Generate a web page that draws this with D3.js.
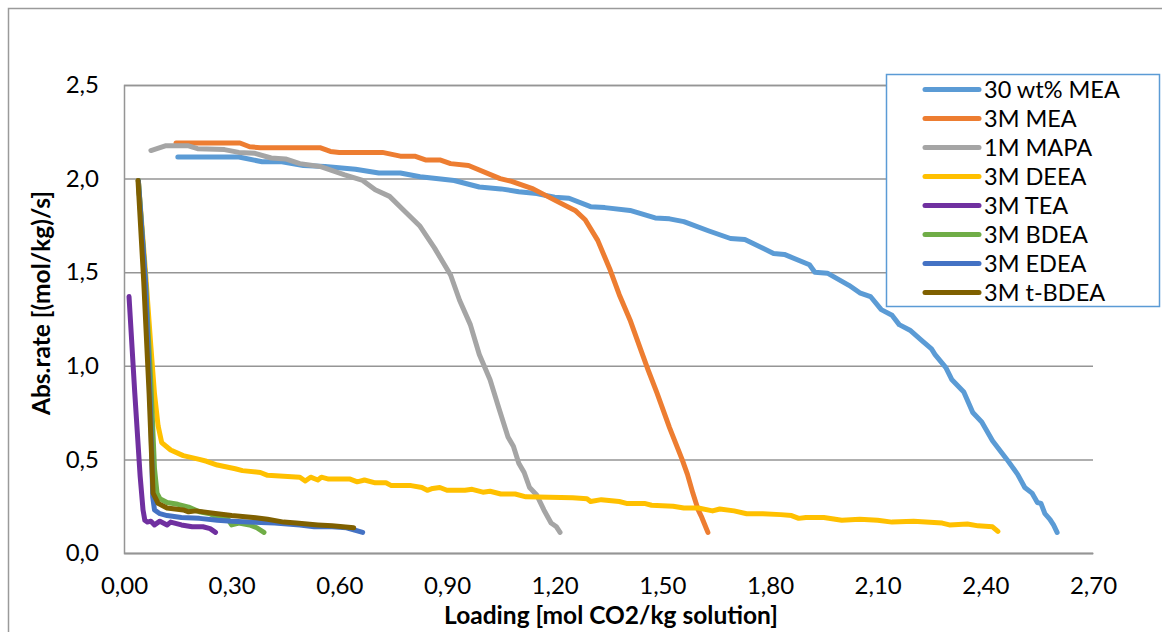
<!DOCTYPE html>
<html>
<head>
<meta charset="utf-8">
<script src="https://cdn.jsdelivr.net/npm/d3@7"></script>
<style>
  html, body { margin: 0; padding: 0; background: #fff; }
  svg { display: block; font-family: Lato, "Noto Sans", sans-serif; }
</style>
</head>
<body>
<svg id="chart" width="1162" height="632"></svg>
<script>
// Absorption rate versus CO2 loading for several amine solutions
const seriesNames = ["30 wt% MEA", "3M MEA", "1M MAPA", "3M DEEA", "3M TEA", "3M BDEA", "3M EDEA", "3M t-BDEA"];
const seriesColors = ["#5b9bd5", "#ed7d31", "#a5a5a5", "#ffc000", "#7030a0", "#70ad47", "#4472c4", "#7f6000"];

const xTickValues = [0, 0.3, 0.6, 0.9, 1.2, 1.5, 1.8, 2.1, 2.4, 2.7];
const xTickLabels = ["0,00", "0,30", "0,60", "0,90", "1,20", "1,50", "1,80", "2,10", "2,40", "2,70"];
const yTickValues = [0, 0.5, 1.0, 1.5, 2.0, 2.5];
const yTickLabels = ["0,0", "0,5", "1,0", "1,5", "2,0", "2,5"];

// [loading, rate] pairs per solvent
const mea30 = [[0.15,2.115],[0.32,2.115],[0.385,2.09],[0.44,2.09],[0.50,2.07],[0.56,2.065],[0.645,2.05],[0.71,2.03],[0.77,2.03],[0.825,2.01],[0.87,2.0],[0.92,1.99],[0.99,1.955],[1.05,1.945],[1.10,1.93],[1.15,1.92],[1.20,1.90],[1.24,1.895],[1.30,1.85],[1.34,1.845],[1.41,1.83],[1.48,1.79],[1.52,1.785],[1.56,1.77],[1.63,1.72],[1.69,1.68],[1.73,1.675],[1.81,1.60],[1.84,1.595],[1.91,1.54],[1.925,1.50],[1.96,1.495],[2.02,1.43],[2.05,1.39],[2.08,1.37],[2.11,1.30],[2.14,1.27],[2.16,1.22],[2.19,1.19],[2.22,1.14],[2.25,1.09],[2.26,1.06],[2.29,0.99],[2.307,0.925],[2.34,0.86],[2.365,0.75],[2.39,0.70],[2.42,0.60],[2.46,0.50],[2.49,0.42],[2.51,0.35],[2.53,0.32],[2.545,0.27],[2.555,0.265],[2.566,0.21],[2.58,0.18],[2.59,0.15],[2.60,0.11]];
const mea3 = [[0.145,2.19],[0.323,2.19],[0.35,2.17],[0.38,2.165],[0.546,2.165],[0.575,2.145],[0.60,2.14],[0.72,2.14],[0.77,2.12],[0.81,2.12],[0.84,2.10],[0.88,2.10],[0.91,2.08],[0.96,2.07],[1.048,2.0],[1.08,1.985],[1.14,1.945],[1.20,1.885],[1.257,1.83],[1.285,1.78],[1.32,1.67],[1.355,1.51],[1.38,1.38],[1.41,1.245],[1.44,1.085],[1.46,0.98],[1.485,0.855],[1.52,0.67],[1.555,0.50],[1.57,0.42],[1.585,0.32],[1.60,0.23],[1.61,0.19],[1.627,0.11]];
const mapa1 = [[0.075,2.15],[0.115,2.175],[0.18,2.175],[0.205,2.16],[0.28,2.155],[0.32,2.14],[0.365,2.135],[0.41,2.11],[0.45,2.105],[0.49,2.08],[0.546,2.065],[0.615,2.02],[0.665,1.99],[0.70,1.94],[0.74,1.905],[0.78,1.83],[0.825,1.745],[0.865,1.63],[0.91,1.485],[0.935,1.35],[0.965,1.22],[0.99,1.06],[1.02,0.925],[1.045,0.77],[1.07,0.62],[1.085,0.57],[1.10,0.48],[1.115,0.43],[1.13,0.35],[1.15,0.31],[1.17,0.23],[1.19,0.16],[1.205,0.14],[1.215,0.11]];
const deea3 = [[0.04,1.99],[0.06,1.50],[0.075,1.10],[0.085,0.85],[0.095,0.68],[0.105,0.59],[0.13,0.55],[0.165,0.52],[0.21,0.50],[0.23,0.49],[0.26,0.47],[0.31,0.45],[0.33,0.44],[0.38,0.43],[0.40,0.415],[0.49,0.405],[0.505,0.385],[0.52,0.405],[0.54,0.39],[0.55,0.405],[0.57,0.395],[0.63,0.395],[0.65,0.38],[0.67,0.39],[0.70,0.375],[0.73,0.375],[0.745,0.36],[0.80,0.36],[0.83,0.35],[0.845,0.335],[0.86,0.345],[0.88,0.35],[0.90,0.335],[0.95,0.335],[0.97,0.34],[1.00,0.325],[1.02,0.33],[1.05,0.315],[1.09,0.315],[1.12,0.30],[1.25,0.295],[1.29,0.29],[1.30,0.275],[1.33,0.285],[1.38,0.275],[1.40,0.265],[1.45,0.265],[1.47,0.255],[1.53,0.25],[1.56,0.24],[1.60,0.24],[1.64,0.225],[1.66,0.235],[1.70,0.225],[1.735,0.21],[1.78,0.21],[1.83,0.205],[1.86,0.20],[1.88,0.185],[1.90,0.19],[1.95,0.19],[2.0,0.175],[2.05,0.18],[2.10,0.175],[2.14,0.165],[2.20,0.17],[2.28,0.16],[2.30,0.15],[2.35,0.155],[2.38,0.145],[2.42,0.14],[2.435,0.115]];
const tea3 = [[0.014,1.37],[0.03,0.855],[0.045,0.41],[0.053,0.23],[0.058,0.175],[0.065,0.165],[0.075,0.17],[0.085,0.15],[0.10,0.17],[0.12,0.15],[0.13,0.165],[0.16,0.15],[0.19,0.14],[0.22,0.14],[0.24,0.13],[0.255,0.11]];
const bdea3 = [[0.04,1.99],[0.06,1.45],[0.075,0.90],[0.085,0.45],[0.092,0.32],[0.10,0.29],[0.12,0.27],[0.15,0.26],[0.18,0.245],[0.21,0.22],[0.24,0.21],[0.26,0.19],[0.29,0.18],[0.30,0.15],[0.32,0.16],[0.35,0.15],[0.37,0.135],[0.39,0.11]];
const edea3 = [[0.04,1.99],[0.06,1.45],[0.075,0.70],[0.08,0.30],[0.085,0.23],[0.10,0.21],[0.12,0.20],[0.16,0.19],[0.21,0.185],[0.26,0.175],[0.30,0.17],[0.35,0.165],[0.42,0.16],[0.49,0.15],[0.53,0.14],[0.58,0.14],[0.62,0.135],[0.665,0.11]];
const tbdea3 = [[0.039,1.99],[0.055,1.45],[0.07,0.85],[0.081,0.32],[0.095,0.265],[0.12,0.24],[0.165,0.23],[0.18,0.22],[0.20,0.225],[0.26,0.21],[0.30,0.20],[0.36,0.19],[0.40,0.18],[0.445,0.165],[0.48,0.16],[0.54,0.15],[0.58,0.145],[0.64,0.135]];

const allSeries = [mea30, mea3, mapa1, deea3, tea3, bdea3, edea3, tbdea3];

const svg = d3.select("#chart");
const x = d3.scaleLinear().domain([0, 2.7]).range([124, 1093]);
const y = d3.scaleLinear().domain([0, 2.5]).range([553, 85]);

// outer chart frame
svg.append("rect")
  .attr("x", 8.5).attr("y", 8.5)
  .attr("width", 1300).attr("height", 800)
  .attr("fill", "none").attr("stroke", "#9a9a9a").attr("stroke-width", 1.5);

// horizontal gridlines + y labels
const yAxis = svg.append("g")
  .attr("transform", `translate(${x(0)},0)`)
  .call(d3.axisLeft(y).tickValues(yTickValues)
    .tickFormat((d, i) => yTickLabels[i])
    .tickSize(-(x(2.7) - x(0))).tickPadding(25));
yAxis.select(".domain").attr("stroke", "#959595").attr("stroke-width", 1.5);
yAxis.selectAll(".tick line").attr("stroke", "#959595").attr("stroke-width", 1.5);
yAxis.selectAll(".tick text").attr("font-size", 24).attr("fill", "#000")
  .attr("font-family", "Lato, 'Noto Sans', sans-serif");

// x axis
const xAxis = svg.append("g")
  .attr("transform", `translate(0,${y(0)})`)
  .call(d3.axisBottom(x).tickValues(xTickValues)
    .tickFormat((d, i) => xTickLabels[i])
    .tickSize(0).tickPadding(24));
xAxis.select(".domain").attr("stroke", "#959595").attr("stroke-width", 1.5);
xAxis.selectAll(".tick text").attr("font-size", 24).attr("fill", "#000")
  .attr("font-family", "Lato, 'Noto Sans', sans-serif");

// curves
const line = d3.line().x(d => x(d[0])).y(d => y(d[1]));
svg.append("g").selectAll("path")
  .data(allSeries)
  .join("path")
  .attr("d", line)
  .attr("fill", "none")
  .attr("stroke", (d, i) => seriesColors[i])
  .attr("stroke-width", 5)
  .attr("stroke-linecap", "round")
  .attr("stroke-linejoin", "round");

// axis titles
svg.append("text")
  .attr("x", 611).attr("y", 624)
  .attr("text-anchor", "middle")
  .attr("font-size", 24.5).attr("font-weight", "bold")
  .text("Loading [mol CO2/kg solution]");
svg.append("text")
  .attr("transform", "translate(50,303) rotate(-90)")
  .attr("text-anchor", "middle")
  .attr("font-size", 24.5).attr("font-weight", "bold")
  .text("Abs.rate [(mol/kg)/s]");

// legend
const legend = svg.append("g");
legend.append("rect")
  .attr("x", 886.5).attr("y", 74.5).attr("width", 273).attr("height", 232)
  .attr("fill", "#fff").attr("stroke", "#5b9bd5").attr("stroke-width", 1.5);
const rows = legend.selectAll("g.row")
  .data(seriesNames)
  .join("g")
  .attr("class", "row")
  .attr("transform", (d, i) => `translate(0,${89.5 + i * 29})`);
rows.append("line")
  .attr("x1", 925).attr("x2", 979)
  .attr("stroke", (d, i) => seriesColors[i])
  .attr("stroke-width", 5).attr("stroke-linecap", "round");
rows.append("text")
  .attr("x", 984).attr("dy", "0.36em")
  .attr("font-size", 23.5).attr("fill", "#000")
  .text(d => d);
</script>
</body>
</html>
